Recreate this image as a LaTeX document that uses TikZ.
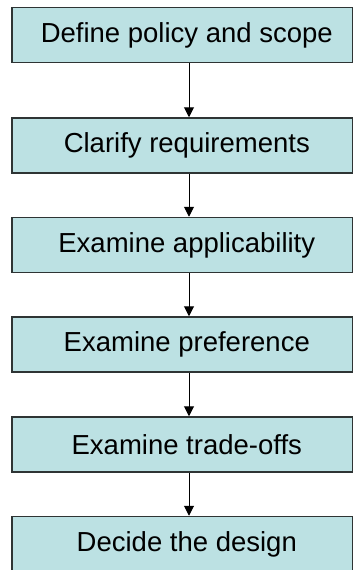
\documentclass[tikz,border=0pt]{standalone}
\usepackage{fontspec}
\setmainfont{Liberation Sans}
\usepackage{tikz}
\usetikzlibrary{arrows.meta,positioning}
\definecolor{boxfill}{HTML}{BCE1E3}
\definecolor{boxline}{HTML}{2E3434}
\tikzset{
  ar/.style={-{Triangle[width=10pt,length=10pt]},line width=1pt,black},
  stepbox/.style={draw=boxline,line width=1.5pt,fill=boxfill,minimum width=340.5pt,minimum height=55pt,
    inner sep=0pt,font=\fontsize{27.5}{31}\selectfont,execute at begin node={\hspace*{9pt}}}
}
\begin{document}
\begin{tikzpicture}[x=1pt,y=-1pt]
\useasboundingbox (0,0) rectangle (355,570);
\clip (0,0) rectangle (355,570);
\node[stepbox] (policy) at (182.3,35) {Define policy and scope};
\node[stepbox] (req) at (182.3,145.5) {Clarify requirements};
\node[stepbox] (appl) at (182.3,245) {Examine applicability};
\node[stepbox] (pref) at (182.3,344.5) {Examine preference};
\node[stepbox] (trade) at (182.3,444.5) {Examine trade-offs};
\node[stepbox] (design) at (182.3,544) {Decide the design};
\foreach \from/\to in {policy/req,req/appl,appl/pref,pref/trade,trade/design}{
  \draw[ar] ([xshift=6.7pt]\from.south) -- ([xshift=6.7pt]\to.north);
}
\end{tikzpicture}
\end{document}
